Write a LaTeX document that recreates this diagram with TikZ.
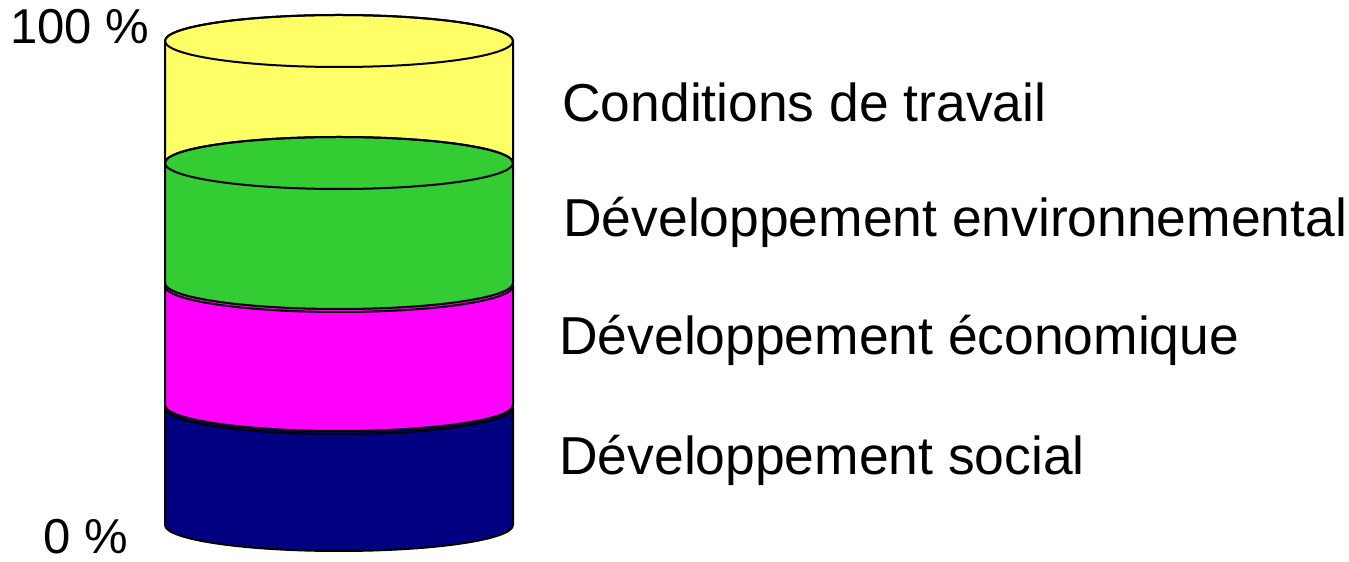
\documentclass[tikz,border=0pt]{standalone}
\usepackage{fontspec}
\setmainfont{Liberation Sans}
\usetikzlibrary{calc}

\definecolor{jaune}{HTML}{FFFF66}
\definecolor{vert}{HTML}{33CC33}
\definecolor{rose}{HTML}{FF00FF}
\definecolor{marine}{HTML}{000080}

\tikzset{
    couche/.style={draw=black,line width=1pt,line join=round},
    legende/.style={anchor=base west,inner sep=0pt,font=\fontsize{26.7}{30}\selectfont},
    pourcent/.style={anchor=base west,inner sep=0pt,font=\fontsize{24.5}{27}\selectfont}
}

% one slice of the cylinder: top height, bottom height, colour
\newcommand{\tranche}[3]{
    \filldraw[couche,fill=#3] (165,#1) -- (165,#2)
        arc[start angle=180,end angle=360,x radius=174,y radius=26]
        -- (513,#1)
        arc[start angle=0,end angle=180,x radius=174,y radius=26] -- cycle;
    \draw[couche] (339,#1) ellipse[x radius=174,y radius=26];
}

\begin{document}
\begin{tikzpicture}[x=0.5pt,y=0.5pt]
            \useasboundingbox (0,0) rectangle (1349,562);
            \tranche{154}{37}{marine}
            \tranche{276}{157}{rose}
            \tranche{521}{400}{jaune}
            \tranche{399}{279}{vert}
            \node[pourcent] (haut) at (10,518) {100 \%};
            \node[pourcent] (bas) at (43,8) {0 \%};
            \node[legende] (travail) at (562,440) {Conditions de travail};
            \node[legende] (environ) at (563,325) {Développement environnemental};
            \node[legende] (econ) at (559,207) {Développement économique};
            \node[legende] (social) at (559,87) {Développement social};
    \end{tikzpicture}
\end{document}
